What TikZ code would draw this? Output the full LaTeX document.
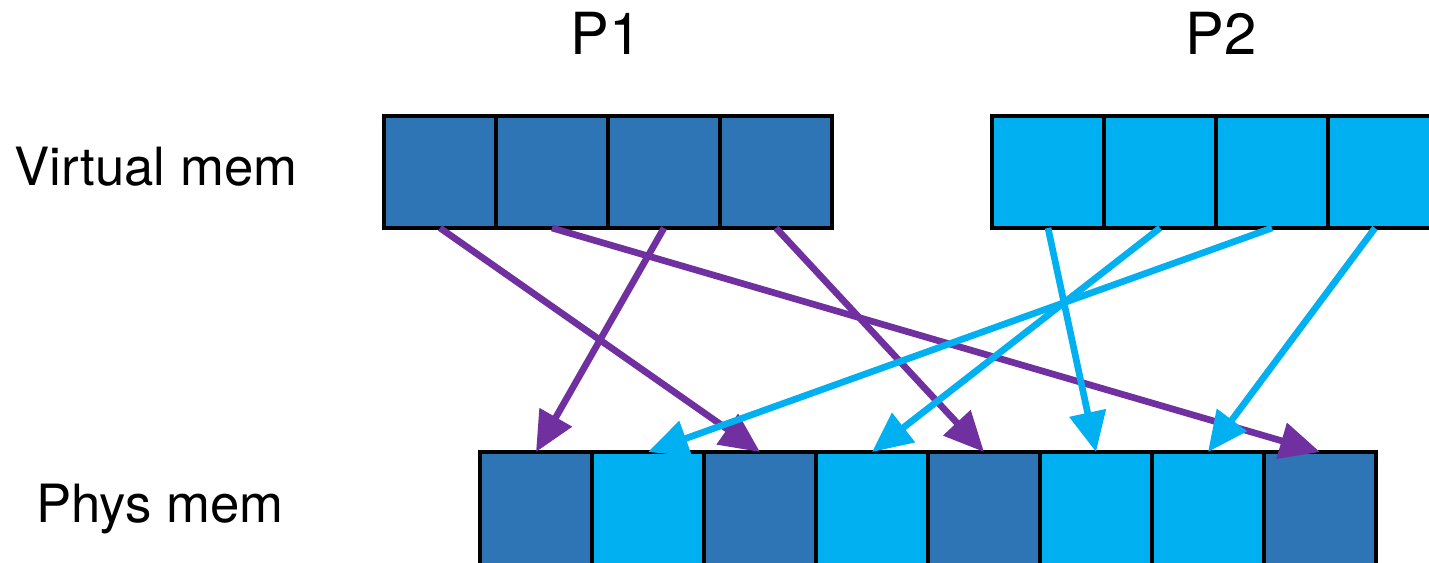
\documentclass[tikz,border=0pt]{standalone}
\usepackage{fontspec}
\setmainfont{TeX Gyre Heros}
\usetikzlibrary{positioning,arrows.meta}

\definecolor{darkpage}{HTML}{2E75B6}
\definecolor{lightpage}{HTML}{00B0F0}
\definecolor{mappurple}{HTML}{7030A0}

\tikzset{
    page/.style = {draw = black, line width = 1.8pt, minimum width = 2.24cm,
                   minimum height = 2.24cm, outer sep = 0pt, inner sep = 0pt},
    lbl/.style = {font = \fontsize{30}{36}\selectfont, anchor = base, inner sep = 0pt},
    plbl/.style = {font = \fontsize{33}{40}\selectfont, anchor = base, inner sep = 0pt},
    map/.style = {line width = 3.8pt, -{Triangle[length = 0.8cm, width = 0.72cm]}}
}

\begin{document}
\begin{tikzpicture}
        \useasboundingbox (0,0) rectangle (28.58,-11.26);

        \node [plbl] (p1label) at (12.12, -1.10) {P1};
        \node [plbl] (p2label) at (24.42, -1.10) {P2};
        \node [lbl] (vlabel) at (3.12, -3.70) {Virtual mem};
        \node [lbl] (plabel) at (3.20, -10.44) {Phys mem};

        \node [page, fill = darkpage] (v11) at (8.80, -3.44) {};
        \node [page, fill = darkpage, right = 0pt of v11] (v12) {};
        \node [page, fill = darkpage, right = 0pt of v12] (v13) {};
        \node [page, fill = darkpage, right = 0pt of v13] (v14) {};

        \node [page, fill = lightpage] (v21) at (20.96, -3.44) {};
        \node [page, fill = lightpage, right = 0pt of v21] (v22) {};
        \node [page, fill = lightpage, right = 0pt of v22] (v23) {};
        \node [page, fill = lightpage, right = 0pt of v23] (v24) {};

        \node [page, fill = darkpage, minimum height = 2.3cm] (m1) at (10.72, -10.19) {};
        \node [page, fill = lightpage, minimum height = 2.3cm, right = 0pt of m1] (m2) {};
        \node [page, fill = darkpage, minimum height = 2.3cm, right = 0pt of m2] (m3) {};
        \node [page, fill = lightpage, minimum height = 2.3cm, right = 0pt of m3] (m4) {};
        \node [page, fill = darkpage, minimum height = 2.3cm, right = 0pt of m4] (m5) {};
        \node [page, fill = lightpage, minimum height = 2.3cm, right = 0pt of m5] (m6) {};
        \node [page, fill = lightpage, minimum height = 2.3cm, right = 0pt of m6] (m7) {};
        \node [page, fill = darkpage, minimum height = 2.3cm, right = 0pt of m7] (m8) {};

        \draw [map, mappurple] (v11.south) -- (m3.north);
        \draw [map, mappurple] (v12.south) -- (m8.north);
        \draw [map, mappurple] (v13.south) -- (m1.north);
        \draw [map, mappurple] (v14.south) -- (m5.north);

        \draw [map, lightpage] (v21.south) -- (m6.north);
        \draw [map, lightpage] (v22.south) -- (m4.north);
        \draw [map, lightpage] (v23.south) -- (m2.north);
        \draw [map, lightpage] ([xshift = -0.18cm] v24.south) -- (m7.north);
    \end{tikzpicture}
\end{document}
